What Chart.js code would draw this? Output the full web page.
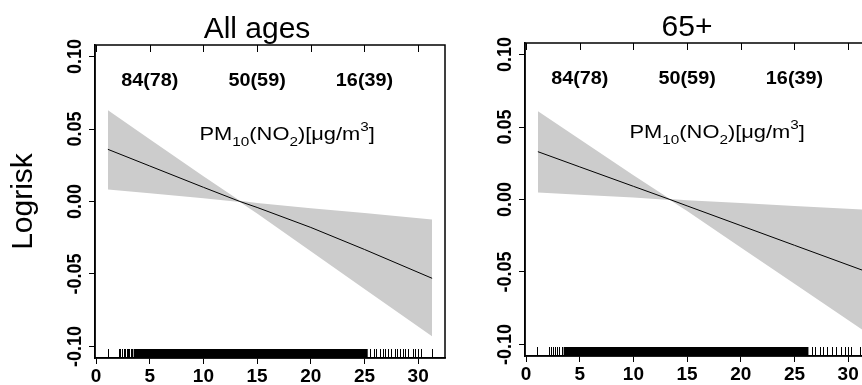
<!DOCTYPE html>
<html>
<head>
<meta charset="utf-8">
<script src="https://cdn.jsdelivr.net/npm/chart.js@4.4.1/dist/chart.umd.min.js"></script>
<style>
  html, body { margin: 0; padding: 0; background: #fff; overflow: hidden; }
  #wrap { position: relative; width: 862px; height: 385px; overflow: hidden; }
  .panel { position: absolute; width: 450px; height: 385px; }
  #p1 { left: 0; top: 0; }
  #p2 { left: 430px; top: -2px; }
</style>
</head>
<body>
<div id="wrap">
  <div class="panel" id="p1"><canvas id="c1" width="450" height="385"></canvas></div>
  <div class="panel" id="p2"><canvas id="c2" width="450" height="385"></canvas></div>
</div>
<script>
// values
const xPoints = [1.1, 5, 10, 13.4, 15, 20, 25, 31.3];

const allAgesFit   = [0.036, 0.0245, 0.0098, 0.0, -0.0041, -0.0179, -0.0331, -0.053];
const allAgesUpper = [0.063, 0.043, 0.0174, 0.0005, -0.0011, -0.0046, -0.008, -0.0124];
const allAgesLower = [0.0083, 0.0057, 0.0023, -0.0003, -0.0083, -0.0343, -0.0603, -0.093];

const over65Fit   = [0.033, 0.0225, 0.0091, 0.0, -0.0044, -0.018, -0.0316, -0.0487];
const over65Upper = [0.0609, 0.0416, 0.0168, 0.0003, -0.0006, -0.0025, -0.0045, -0.0069];
const over65Lower = [0.0048, 0.0033, 0.0013, -0.0003, -0.008, -0.0331, -0.0581, -0.0897];

// rug: single marks plus the range where marks merge into a solid block
const allAgesRug = [1.12, 2.14, 2.26, 2.45, 2.58, 2.7, 2.86, 2.98, 3.1, 3.26, 3.38,
  25.5, 25.9, 26.1, 26.4, 26.7, 26.9, 27.2, 27.5, 27.8, 28.0, 28.3, 28.6, 28.8, 29.1,
  29.5, 29.7, 30.0, 30.3, 31.3];
const allAgesRugDense = [3.5, 25.3];
const over65Rug = [1.05, 2.1, 2.3, 2.5, 2.7, 2.9, 3.1, 3.3,
  26.6, 26.9, 27.4, 27.7, 28.0, 28.5, 28.9, 29.3, 29.7, 30.0, 30.3, 31.1];
const over65RugDense = [3.5, 26.3];

const xTicks = [0, 5, 10, 15, 20, 25, 30];
const yTicks = [-0.1, -0.05, 0, 0.05, 0.1];
const yTickLabels = ['-0.10', '-0.05', '0.00', '0.05', '0.10'];
const topLabels = ['84(78)', '50(59)', '16(39)'];
const topLabelX = [5, 15, 25];
const unitParts = [['PM', 0], ['10', -1], ['(NO', 0], ['2', -1], [')[\u03bcg/m', 0], ['3', 1], [']', 0]];

const FONT = '"Liberation Sans", Arial, Helvetica, sans-serif';
const BAND = 'rgb(204,204,204)';

const panelExtras = {
  c1: { title: 'All ages', rug: allAgesRug, dense: allAgesRugDense },
  c2: { title: '65+', rug: over65Rug, dense: over65RugDense }
};

function drawRich(ctx, parts, cx, cy, size, stretch) {
  const sizes = parts.map(p => p[1] === 0 ? size : size * 0.7);
  let total = 0;
  parts.forEach((p, i) => { ctx.font = sizes[i] + 'px ' + FONT; total += ctx.measureText(p[0]).width; });
  ctx.save();
  ctx.translate(cx, cy);
  ctx.scale(stretch, 1);
  ctx.textAlign = 'left';
  ctx.textBaseline = 'alphabetic';
  let x = -total / 2;
  parts.forEach((p, i) => {
    ctx.font = sizes[i] + 'px ' + FONT;
    const dy = p[1] === -1 ? size * 0.3 : (p[1] === 1 ? -size * 0.45 : 0);
    ctx.fillText(p[0], x, size * 0.36 + dy);
    x += ctx.measureText(p[0]).width;
  });
  ctx.restore();
}

const decorations = {
  id: 'decorations',
  afterDraw(chart) {
    const ctx = chart.ctx, a = chart.chartArea;
    const xs = chart.scales.x, ys = chart.scales.y;
    const ex = panelExtras[chart.canvas.id];
    ctx.save();
    ctx.fillStyle = '#000';
    ctx.strokeStyle = '#000';

    // rug
    const rugH = 9;
    const d0 = xs.getPixelForValue(ex.dense[0]), d1 = xs.getPixelForValue(ex.dense[1]);
    ctx.fillRect(d0, a.bottom - rugH, d1 - d0, rugH);
    ctx.lineWidth = 1;
    ex.rug.forEach(v => {
      const px = Math.round(xs.getPixelForValue(v)) + 0.5;
      ctx.beginPath();
      ctx.moveTo(px, a.bottom);
      ctx.lineTo(px, a.bottom - rugH);
      ctx.stroke();
    });

    // box
    ctx.lineWidth = 1.5;
    ctx.strokeRect(a.left, a.top, a.right - a.left, a.bottom - a.top);

    // inward ticks on top
    ctx.lineWidth = 1;
    xTicks.forEach(v => {
      const px = Math.round(xs.getPixelForValue(v)) + 0.5;
      ctx.beginPath();
      ctx.moveTo(px, a.top);
      ctx.lineTo(px, a.top + 7);
      ctx.stroke();
    });

    // rotated y tick labels
    ctx.font = 'bold 18px ' + FONT;
    ctx.textAlign = 'center';
    ctx.textBaseline = 'middle';
    yTicks.forEach((v, i) => {
      ctx.save();
      ctx.translate(a.left - 20, ys.getPixelForValue(v));
      ctx.rotate(-Math.PI / 2);
      ctx.scale(1, 1.15);
      ctx.fillText(yTickLabels[i], 0, 0);
      ctx.restore();
    });

    // panel title
    ctx.font = '30px ' + FONT;
    ctx.textBaseline = 'alphabetic';
    ctx.fillText(ex.title, (a.left + a.right) / 2 - 13, a.top - 7);

    // labels along the top
    ctx.textBaseline = 'middle';
    topLabels.forEach((t, i) => {
      ctx.save();
      ctx.translate(xs.getPixelForValue(topLabelX[i]), ys.getPixelForValue(0.083));
      ctx.scale(1.1, 1);
      ctx.font = 'bold 18px ' + FONT;
      ctx.fillText(t, 0, 0);
      ctx.restore();
    });

    // unit label
    drawRich(ctx, unitParts, xs.getPixelForValue(17.8), ys.getPixelForValue(0.0472), 19, 1.15);
    ctx.restore();
  }
};

function makePanel(canvasId, fit, upper, lower, showYTitle) {
  const toPts = ys => xPoints.map((x, i) => ({ x: x, y: ys[i] }));
  return new Chart(document.getElementById(canvasId), {
    type: 'line',
    data: {
      datasets: [
        { data: toPts(lower), borderWidth: 0, pointRadius: 0, fill: false, backgroundColor: BAND, borderColor: BAND, order: 2 },
        { data: toPts(upper), borderWidth: 0, pointRadius: 0, fill: '-1', backgroundColor: BAND, borderColor: BAND, order: 1 },
        { data: toPts(fit), borderColor: '#000', borderWidth: 1, pointRadius: 0, fill: false, order: 0 }
      ]
    },
    options: {
      responsive: false,
      animation: false,
      events: [],
      layout: { padding: { left: 0, right: 5, top: 45, bottom: 0 } },
      plugins: { legend: { display: false }, tooltip: { enabled: false }, title: { display: false } },
      scales: {
        x: {
          type: 'linear', min: -0.1, max: 32.5,
          afterBuildTicks: s => { s.ticks = xTicks.map(v => ({ value: v })); },
          afterFit: s => { s.height = 27; },
          ticks: { color: '#000', font: { family: FONT, size: 19, weight: 'bold' }, padding: 1,
                   maxRotation: 0, autoSkip: false, callback: v => String(v) },
          grid: { drawOnChartArea: false, drawTicks: true, tickLength: 6, color: '#000', lineWidth: 1 },
          border: { display: true, color: '#000', width: 1.5 }
        },
        y: {
          min: -0.108, max: 0.108,
          afterBuildTicks: s => { s.ticks = yTicks.map(v => ({ value: v })); },
          afterFit: s => { s.width = 95; },
          ticks: { display: false },
          grid: { drawOnChartArea: false, drawTicks: true, tickLength: 6, color: '#000', lineWidth: 1 },
          border: { display: true, color: '#000', width: 1.5 },
          title: { display: showYTitle, text: 'Logrisk', color: '#000',
                   font: { family: FONT, size: 30 }, padding: { top: 6, bottom: 0 } }
        }
      }
    },
    plugins: [decorations]
  });
}

makePanel('c1', allAgesFit, allAgesUpper, allAgesLower, true);
makePanel('c2', over65Fit, over65Upper, over65Lower, false);
</script>
</body>
</html>
